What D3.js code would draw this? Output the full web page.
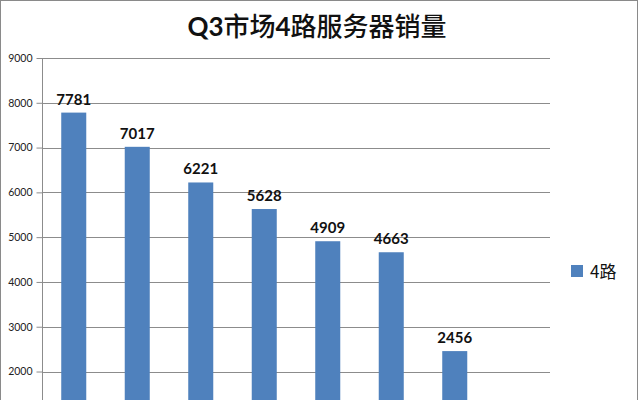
<!DOCTYPE html>
<html>
	<head>
		<meta charset="utf-8">
		<title>Q3市场4路服务器销量</title>
		<style>
			body,html
			{
				margin:0px;
				overflow:hidden;
				background:#fff;
			}
		</style>
		<script src="https://cdn.jsdelivr.net/npm/d3@7"></script>
	</head>
	<body>
	<svg id="chart" width="639" height="520"></svg>
	<script>
		// categories are cut off below the picture; names unknown
		var categories = ["厂商1","厂商2","厂商3","厂商4","厂商5","厂商6","厂商7","厂商8"];
		var sales4 = [7781, 7017, 6221, 5628, 4909, 4663, 2456, 900];
		var yTicks = [0,1000,2000,3000,4000,5000,6000,7000,8000,9000];
		var seriesName = "4路";
		var chartTitle = "Q3市场4路服务器销量";

		var svg = d3.select("#chart");
		var font = "Lato, 'Open Sans', 'Liberation Sans', sans-serif";

		// outer frame
		svg.append("rect")
			.attr("x",0.5).attr("y",0.5)
			.attr("width",637).attr("height",560)
			.attr("fill","#fff")
			.attr("stroke","#8a8a8a");

		// plot box (don't use "top", it's window.top)
		var plotLeft = 42, plotRight = 550, plotTop = 58, plotBottom = 461.1;

		var x = d3.scaleBand()
			.domain(categories)
			.range([plotLeft,plotRight])
			.paddingInner(0.606)
			.paddingOuter(0.303);

		var y = d3.scaleLinear()
			.domain([0,9000])
			.range([plotBottom,plotTop]);

		// gridlines
		svg.append("g")
			.selectAll("line")
			.data(yTicks.slice(1))
			.enter()
			.append("line")
			.attr("x1",plotLeft).attr("x2",plotRight)
			.attr("y1",function(d){ return Math.round(y(d))+0.5; })
			.attr("y2",function(d){ return Math.round(y(d))+0.5; })
			.attr("stroke","#8c8c8c")
			.attr("stroke-width",1);

		// y axis
		var yAxis = svg.append("g")
			.attr("transform","translate(" + (plotLeft+0.5) + ",0)")
			.call(d3.axisLeft(y).tickValues(yTicks).tickSize(6).tickPadding(4).tickFormat(d3.format("d")));
		yAxis.select(".domain").attr("stroke","#8c8c8c").attr("d","M0," + plotTop + "V" + plotBottom);
		yAxis.selectAll(".tick line").attr("stroke","#8c8c8c");
		yAxis.selectAll(".tick text")
			.attr("fill","#222")
			.style("font-family",font)
			.style("font-size","10.5px");

		// x axis line only, the category names fall below the picture
		var xAxis = svg.append("g")
			.attr("transform","translate(0," + plotBottom + ")")
			.call(d3.axisBottom(x).tickSize(0).tickFormat(""));
		xAxis.select(".domain").attr("stroke","#8c8c8c");

		// bars
		svg.append("g")
			.selectAll("rect")
			.data(sales4)
			.enter()
			.append("rect")
			.attr("x",function(d,i){ return x(categories[i]); })
			.attr("y",function(d){ return y(d); })
			.attr("width",x.bandwidth())
			.attr("height",function(d){ return plotBottom - y(d); })
			.attr("fill","#4f81bd");

		// value labels
		svg.append("g")
			.selectAll("text")
			.data(sales4)
			.enter()
			.append("text")
			.attr("x",function(d,i){ return x(categories[i]) + x.bandwidth()/2; })
			.attr("y",function(d){ return y(d) - 8; })
			.attr("text-anchor","middle")
			.style("font-family",font)
			.style("font-size","15px")
			.style("font-weight","bold")
			.attr("fill","#111")
			.text(function(d){ return d; });

		// title: latin parts bold, chinese parts a bit lighter
		var title = svg.append("text")
			.attr("x",317)
			.attr("y",36)
			.attr("text-anchor","middle")
			.style("font-size","26px")
			.attr("fill","#111");
		var parts = chartTitle.match(/[A-Za-z0-9]+|[^A-Za-z0-9]+/g);
		title.selectAll("tspan")
			.data(parts)
			.enter()
			.append("tspan")
			.style("font-family",function(d){ return /[A-Za-z0-9]/.test(d) ? font : "'Noto Sans CJK SC', sans-serif"; })
			.style("font-weight",function(d){ return /[A-Za-z0-9]/.test(d) ? "bold" : "500"; })
			.text(function(d){ return d; });

		// legend
		svg.append("rect")
			.attr("x",571).attr("y",265)
			.attr("width",12).attr("height",12)
			.attr("fill","#4f81bd");
		svg.append("text")
			.attr("x",590).attr("y",278)
			.style("font-family","'Noto Sans CJK SC', sans-serif")
			.style("font-size","17px")
			.attr("fill","#111")
			.text(seriesName);
	</script>
	</body>
</html>
